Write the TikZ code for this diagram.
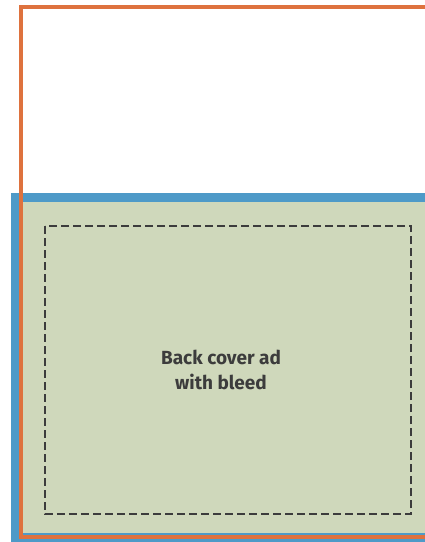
\documentclass[tikz,border=0pt]{standalone}
\usepackage{fontspec}
\setsansfont{Fira Sans}
\usepackage{tikz}
\usetikzlibrary{positioning}
\definecolor{pageorange}{RGB}{222,114,62}
\definecolor{bleedblue}{RGB}{78,154,200}
\definecolor{adgreen}{RGB}{207,216,187}
\definecolor{safegray}{RGB}{60,60,60}

\begin{document}
\begin{tikzpicture}[x=1pt, y=-1pt, font=\sffamily]
  \useasboundingbox (0,0) rectangle (425,542);
  \clip (0,0) rectangle (425,542);
  % bleed area
  \fill[bleedblue] (11,193) rectangle (440,550);
  \fill[adgreen] (20,202) rectangle (440,533);
  % safe zone
  \draw[safegray, line width=2.5pt, dash pattern=on 8pt off 4pt] (45,226) rectangle (411,514);
  \node[text=safegray, align=center, font=\sffamily\bfseries\fontsize{19}{25}\selectfont] (adtext) at (221,370) {Back cover ad\\with bleed};
  % trim line
  \draw[pageorange, line width=4pt] (21,7) rectangle (440,537);
\end{tikzpicture}
\end{document}
